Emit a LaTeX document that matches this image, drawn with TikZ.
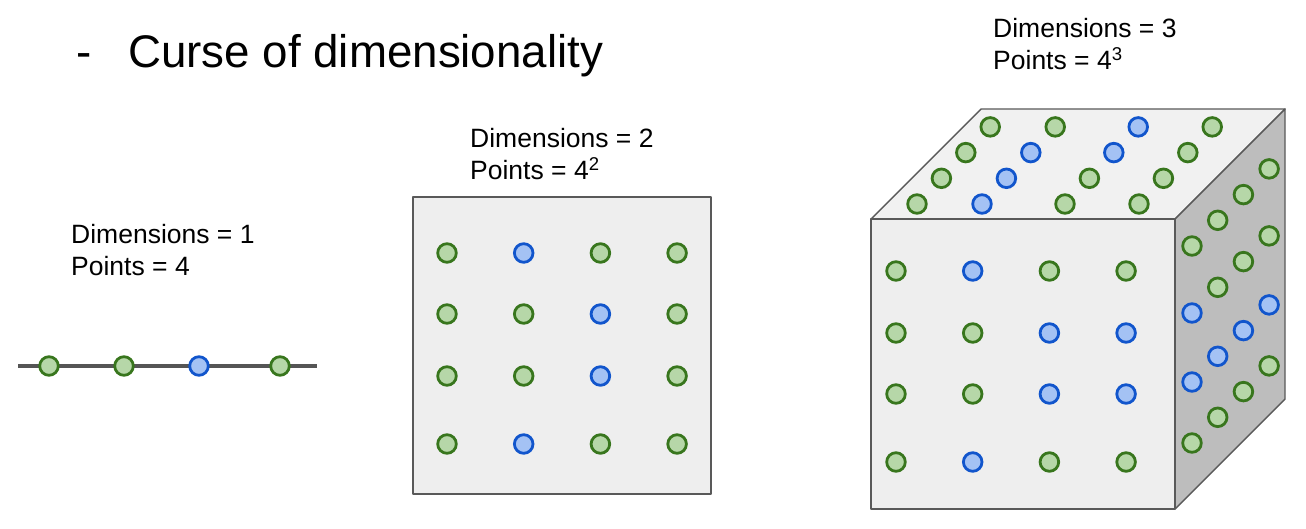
\documentclass[tikz,border=0pt]{standalone}
\usepackage{fontspec}
\setmainfont{Liberation Sans}
\usetikzlibrary{positioning}
\definecolor{dotgreen}{HTML}{38761D}
\definecolor{dotgreenfill}{HTML}{B6D7A8}
\definecolor{dotblue}{HTML}{1155CC}
\definecolor{dotbluefill}{HTML}{A4C2F4}
\definecolor{edgegray}{HTML}{595959}
\definecolor{axisgray}{HTML}{555555}
\definecolor{facefront}{HTML}{EEEEEE}
\definecolor{facetop}{HTML}{F1F1F1}
\definecolor{faceside}{HTML}{BDBDBD}
\tikzset{
  dotg/.style={circle,draw=dotgreen,fill=dotgreenfill,line width=2.8pt,minimum size=18.6pt,inner sep=0pt},
  dotb/.style={dotg,draw=dotblue,fill=dotbluefill},
  dimtext/.style={anchor=base west,inner sep=0pt},
  face/.style={draw=edgegray,line width=1.4pt,line join=round}
}

\begin{document}
\begin{tikzpicture}[x=1pt,y=-1pt,font=\fontsize{26.5}{32}\selectfont]
  \useasboundingbox (0,0) rectangle (1306,529);
  % title
  \node[dimtext,font=\fontsize{45.7}{50}\selectfont] (dash) at (76,68) {-};
  \node[dimtext,font=\fontsize{45.7}{50}\selectfont] (title) at (128,68) {Curse of dimensionality};

  % one dimension
  \node[dimtext] (dim1) at (71,244) {Dimensions = 1};
  \node[dimtext] (pts1) at (71,276) {Points = 4};
  \coordinate (l0) at (18,366);
  \coordinate (l1) at (317,366);
  \draw[axisgray,line width=4pt] (l0) -- (l1);
  \foreach \x/\k [count=\i] in {49/g,124/g,199/b,280/g}
    \node[dot\k] (p1-\i) at (\x,366) {};

  % two dimensions
  \node[dimtext] (dim2) at (470,148) {Dimensions = 2};
  \node[dimtext] (pts2) at (470,180) {Points = 4\textsuperscript{2}};
  \draw[face,fill=facefront] (413,197) rectangle (711,494);
  \foreach \y/\row [count=\r] in {253/{g,b,g,g},314/{g,g,b,g},376/{g,g,b,g},444/{g,b,g,g}}
    \foreach \k [count=\c] in \row
      \node[dot\k] (sq-\r-\c) at ({447+76.7*(\c-1)},\y) {};

  % three dimensions
  \node[dimtext] (dim3) at (993,38) {Dimensions = 3};
  \node[dimtext] (pts3) at (993,70) {Points = 4\textsuperscript{3}};
  \draw[face,fill=facetop] (871,219) -- (981,109) -- (1285,109) -- (1175,219) -- cycle;
  \draw[face,fill=faceside] (1175,219) -- (1285,109) -- (1285,399) -- (1175,509) -- cycle;
  \draw[face,fill=facefront] (871,219) rectangle (1175,509);
  % front face
  \foreach \y/\row [count=\r] in {271/{g,b,g,g},333/{g,g,b,b},394/{g,g,b,b},462/{g,b,g,g}}
    \foreach \k [count=\c] in \row
      \node[dot\k] (fr-\r-\c) at ({896+76.7*(\c-1)},\y) {};
  % top face, front to back
  \foreach \x/\col [count=\c] in {917/{g,g,g,g},982/{b,b,b,g},1065/{g,g,b,b},1139/{g,g,g,g}}
    \foreach \k [count=\d] in \col
      \node[dot\k] (tp-\c-\d) at ({\x+24.4*(\d-1)},{204-25.7*(\d-1)}) {};
  % side face, front to back
  \foreach \y/\row [count=\r] in {246/{g,g,g,g},313/{b,g,g,g},382/{b,b,b,b},443/{g,g,g,g}}
    \foreach \k [count=\d] in \row
      \node[dot\k] (sd-\r-\d) at ({1192+25.7*(\d-1)},{\y-25.7*(\d-1)}) {};
\end{tikzpicture}
\end{document}
